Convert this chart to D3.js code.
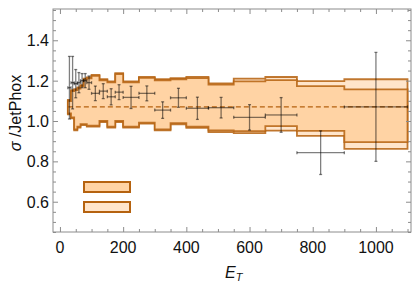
<!DOCTYPE html>
<html>
<head>
<meta charset="utf-8">
<script src="https://cdn.jsdelivr.net/npm/d3@7"></script>
<style>
  body { margin: 0; background: #fff; }
  svg { display: block; font-family: "Liberation Sans", Arial, sans-serif; }
</style>
</head>
<body>
<script>
// bin edges of E_T
var edges = [25, 35, 45, 55, 65, 75, 85, 100, 125, 150, 175, 200, 250, 300, 350, 400, 470, 550, 650, 750, 900, 1100]
// inner (darker) band
var innerHi = [1.099, 1.148, 1.153, 1.161, 1.173, 1.205, 1.211, 1.224, 1.202, 1.191, 1.232, 1.191, 1.214, 1.202, 1.207, 1.212, 1.180, 1.196, 1.203, 1.173, 1.157]
var innerLo = [1.038, 1.018, 0.959, 0.972, 0.985, 0.985, 0.977, 0.977, 1.000, 0.972, 1.000, 0.972, 0.992, 0.959, 0.989, 0.972, 0.953, 0.950, 0.975, 0.951, 0.895]
// outer (lighter) band
var outerHi = [1.104, 1.153, 1.158, 1.166, 1.178, 1.210, 1.216, 1.229, 1.207, 1.196, 1.237, 1.196, 1.219, 1.207, 1.212, 1.219, 1.186, 1.210, 1.218, 1.198, 1.207]
var outerLo = [1.033, 1.013, 0.954, 0.967, 0.980, 0.980, 0.972, 0.972, 0.995, 0.967, 0.995, 0.967, 0.987, 0.954, 0.984, 0.966, 0.945, 0.940, 0.952, 0.926, 0.862]
var centralValue = 1.07

// data points: ratio and error per bin
var ptE   = [30, 40, 50, 60, 70, 80, 92, 112, 137, 162, 187, 225, 275, 325, 375, 435, 510, 600, 700, 825, 1000]
var ptVal = [1.165, 1.19, 1.185, 1.19, 1.20, 1.20, 1.19, 1.137, 1.148, 1.12, 1.143, 1.117, 1.137, 1.054, 1.115, 1.063, 1.066, 1.018, 1.03, 0.843, 1.07]
var ptErr = [0.155, 0.13, 0.07, 0.05, 0.035, 0.035, 0.033, 0.036, 0.037, 0.04, 0.037, 0.055, 0.037, 0.041, 0.047, 0.055, 0.051, 0.063, 0.086, 0.108, 0.27]

var xMajor = [0, 200, 400, 600, 800, 1000]
var yMajor = [0.6, 0.8, 1.0, 1.2, 1.4]

var W = 415, H = 284
var L = 53, R = 411, T = 9, B = 232

var x = d3.scaleLinear().domain([-22, 1111]).range([L, R])
var y = d3.scaleLinear().domain([0.45, 1.555]).range([B, T])

var svg = d3.select('body').append('svg').attr('width', W).attr('height', H)

function bandData(hi, lo) {
  var d = edges.slice(0, -1).map((e, i) => ({e: e, hi: hi[i], lo: lo[i]}))
  d.push({e: edges[edges.length - 1], hi: hi[hi.length - 1], lo: lo[lo.length - 1]})
  return d
}
var area = d3.area()
  .x(d => x(d.e)).y0(d => y(d.lo)).y1(d => y(d.hi))
  .curve(d3.curveStepAfter)

var edgeColor = '#b5620f'
svg.append('path').datum(bandData(outerHi, outerLo))
  .attr('d', area).attr('fill', '#ffe5cb')
  .attr('stroke', edgeColor).attr('stroke-width', 1.8).attr('stroke-opacity', 0.85)
svg.append('path').datum(bandData(innerHi, innerLo))
  .attr('d', area).attr('fill', '#ffd3a4')
  .attr('stroke', edgeColor).attr('stroke-width', 1.8).attr('stroke-opacity', 0.85)

// central dashed line
svg.append('line')
  .attr('x1', x(edges[0])).attr('x2', x(edges[edges.length - 1]))
  .attr('y1', y(centralValue)).attr('y2', y(centralValue))
  .attr('stroke', '#b5620f').attr('stroke-width', 1.4).attr('stroke-dasharray', '5,3')

// error bars
var eb = svg.append('g').attr('stroke', '#000').attr('stroke-opacity', 0.5).attr('stroke-width', 1.3)
ptE.forEach((e, i) => {
  var cx = x(e), cy = y(ptVal[i])
  var yt = y(ptVal[i] + ptErr[i]), yb = y(ptVal[i] - ptErr[i])
  var xl = x(edges[i]), xr = x(edges[i + 1])
  eb.append('line').attr('x1', cx).attr('x2', cx).attr('y1', yt).attr('y2', yb)
  eb.append('line').attr('x1', xl).attr('x2', xr).attr('y1', cy).attr('y2', cy)
  eb.append('line').attr('x1', cx - 1.5).attr('x2', cx + 1.5).attr('y1', yt).attr('y2', yt)
  eb.append('line').attr('x1', cx - 1.5).attr('x2', cx + 1.5).attr('y1', yb).attr('y2', yb)
  eb.append('line').attr('x1', xl).attr('x2', xl).attr('y1', cy - 1.5).attr('y2', cy + 1.5)
  eb.append('line').attr('x1', xr).attr('x2', xr).attr('y1', cy - 1.5).attr('y2', cy + 1.5)
})

// legend boxes
svg.append('rect').attr('x', 84).attr('y', 182).attr('width', 46).attr('height', 10)
  .attr('fill', '#ffd3a4').attr('stroke', edgeColor).attr('stroke-width', 2)
svg.append('rect').attr('x', 84).attr('y', 202).attr('width', 46).attr('height', 10)
  .attr('fill', '#ffe5cb').attr('stroke', edgeColor).attr('stroke-width', 2)

// frame
var frameColor = '#8c8c8c'
svg.append('rect').attr('x', L).attr('y', T).attr('width', R - L).attr('height', B - T)
  .attr('fill', 'none').attr('stroke', frameColor).attr('stroke-width', 1)

var xMinor = d3.range(0, 1101, 50).filter(v => xMajor.indexOf(v) < 0)
var yMinor = d3.range(0.45, 1.556, 0.05).map(v => +v.toFixed(2)).filter(v => yMajor.indexOf(v) < 0)

function addTicks(g, axis, sz) {
  g.call(axis.tickSize(sz).tickFormat(''))
  g.select('.domain').remove()
  g.selectAll('line').attr('stroke', frameColor)
}
addTicks(svg.append('g').attr('transform', `translate(0,${B})`), d3.axisTop(x).tickValues(xMajor), 5)
addTicks(svg.append('g').attr('transform', `translate(0,${B})`), d3.axisTop(x).tickValues(xMinor), 3)
addTicks(svg.append('g').attr('transform', `translate(0,${T})`), d3.axisBottom(x).tickValues(xMajor), 5)
addTicks(svg.append('g').attr('transform', `translate(0,${T})`), d3.axisBottom(x).tickValues(xMinor), 3)
addTicks(svg.append('g').attr('transform', `translate(${L},0)`), d3.axisRight(y).tickValues(yMajor), 5)
addTicks(svg.append('g').attr('transform', `translate(${L},0)`), d3.axisRight(y).tickValues(yMinor), 3)
addTicks(svg.append('g').attr('transform', `translate(${R},0)`), d3.axisLeft(y).tickValues(yMajor), 5)
addTicks(svg.append('g').attr('transform', `translate(${R},0)`), d3.axisLeft(y).tickValues(yMinor), 3)

// tick labels
svg.append('g').selectAll('text').data(xMajor).enter().append('text')
  .attr('x', d => x(d)).attr('y', 253).attr('text-anchor', 'middle')
  .attr('font-size', 16).attr('fill', '#111').text(d => d)
svg.append('g').selectAll('text').data(yMajor).enter().append('text')
  .attr('x', 49).attr('y', d => y(d) + 6).attr('text-anchor', 'end')
  .attr('font-size', 16).attr('fill', '#111').text(d => d.toFixed(1))

// axis titles
var xt = svg.append('text').attr('x', 225).attr('y', 278).attr('font-size', 16).attr('fill', '#111')
xt.append('tspan').attr('font-style', 'italic').text('E')
xt.append('tspan').attr('font-style', 'italic').attr('font-size', 11).attr('dy', 3).text('T')

var yt = svg.append('text').attr('transform', 'translate(21,113) rotate(-90)')
  .attr('text-anchor', 'middle').attr('font-size', 16).attr('fill', '#111')
yt.append('tspan').attr('font-style', 'italic').text('σ')
yt.append('tspan').text(' /JetPhox')
</script>
</body>
</html>
